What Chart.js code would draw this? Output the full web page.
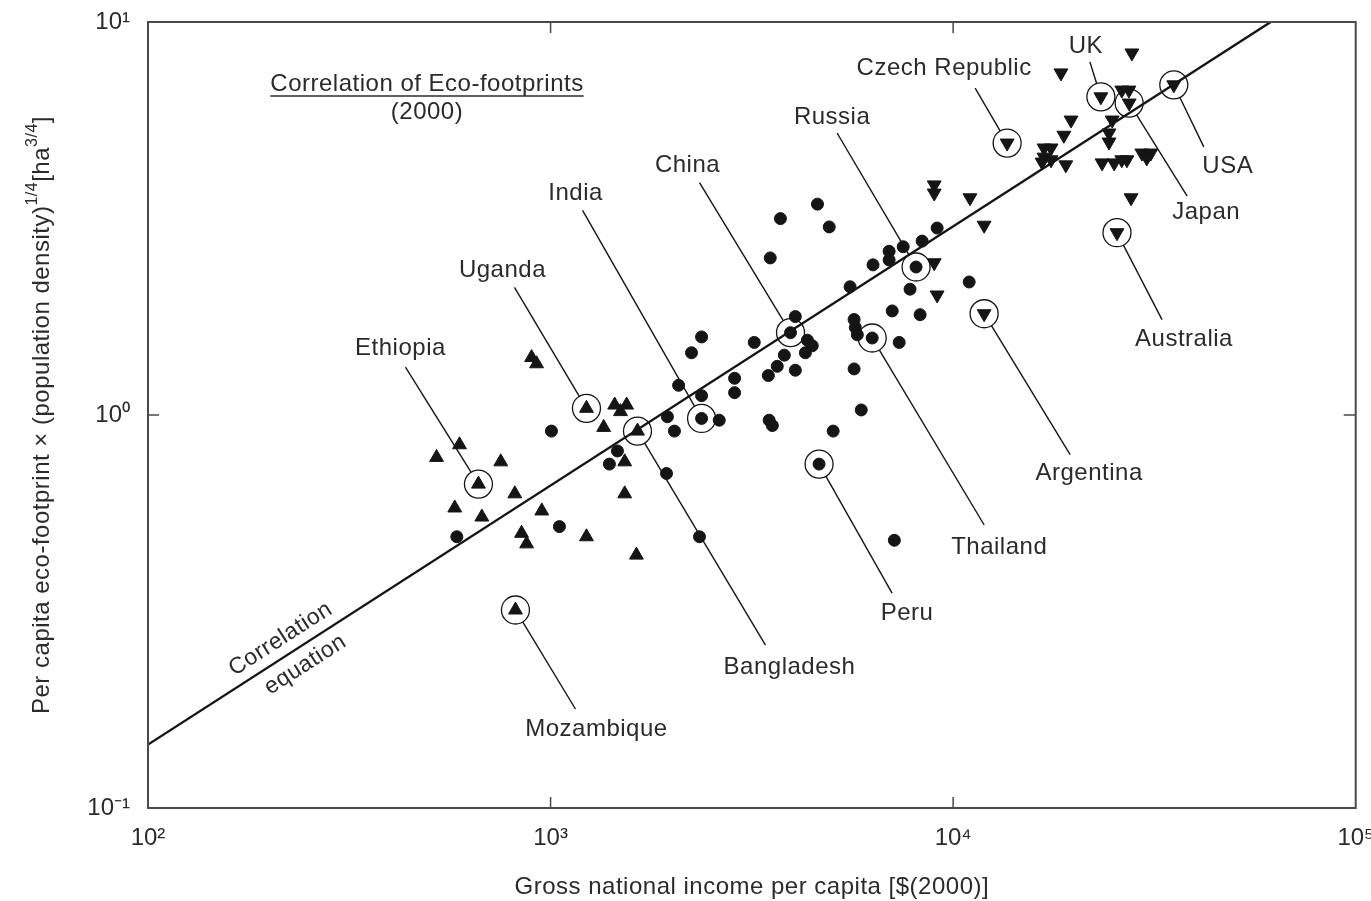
<!DOCTYPE html>
<html>
<head>
<meta charset="utf-8">
<script src="https://cdn.jsdelivr.net/npm/chart.js@4.4.1/dist/chart.umd.min.js"></script>
<style>
  html, body { margin: 0; padding: 0; background: #fff; }
</style>
</head>
<body>
<canvas id="ecoChart" width="1371" height="901"></canvas>
<script>
// low-income countries (up triangles)
const lowX = [521, 594, 752, 578, 675, 815, 951, 847, 872, 1228, 1528, 1528, 1634, 1355, 1443, 1545, 1492, 897, 923];
const lowY = [0.78, 0.84, 0.76, 0.58, 0.55, 0.63, 0.57, 0.50, 0.47, 0.49, 0.76, 0.63, 0.44, 0.93, 1.06, 1.06, 1.02, 1.40, 1.35];

// middle-income countries (dots)
const midX = [585, 1005, 1052, 1466, 1400, 1941, 2344, 1951, 2031, 2624, 2080, 2372, 2239, 2372, 2865, 2865, 3491, 3556,
  3206, 3475, 3657, 3808, 4055, 4295, 4467, 4345, 4055, 3513, 3724, 4603, 4923, 5546, 6324, 6934, 6934, 7516, 8375,
  9126, 10960, 7816, 7058, 8279, 5675, 5714, 5781, 7345, 5675, 5912, 5035, 7145];
const midY = [0.49, 0.91, 0.52, 0.81, 0.75, 0.71, 0.49, 0.99, 0.91, 0.97, 1.19, 1.12, 1.44, 1.58, 1.24, 1.14, 0.97, 0.94,
  1.53, 1.26, 1.33, 1.42, 1.30, 1.44, 1.50, 1.55, 1.78, 2.51, 3.16, 3.44, 3.01, 2.12, 2.41, 2.61, 2.48, 2.68, 2.77,
  2.99, 2.18, 2.09, 1.84, 1.80, 1.75, 1.67, 1.60, 1.53, 1.31, 1.03, 0.91, 0.48];

// high-income countries (down triangles)
const highX = [8975, 8975, 11010, 11940, 8975, 9126, 27800, 18530, 26240, 27330, 19630, 18840, 16820, 17510, 16820,
  17510, 16630, 19050, 24840, 24390, 24390, 23440, 25120, 26240, 27020, 29440, 30980, 27670, 30270];
const highY = [3.85, 3.67, 3.57, 3.04, 2.44, 2.02, 8.34, 7.42, 6.71, 6.71, 5.63, 5.15, 4.78, 4.78, 4.53,
  4.46, 4.40, 4.33, 5.63, 5.22, 4.95, 4.38, 4.38, 4.46, 4.46, 4.64, 4.64, 3.57, 4.51];

// named countries
const countries = ['Ethiopia', 'Mozambique', 'Uganda', 'Bangladesh', 'India', 'China', 'Peru', 'Thailand', 'Russia',
  'Argentina', 'Czech Republic', 'UK', 'Japan', 'USA', 'Australia'];
const countryX = [662, 818, 1228, 1644, 2372, 3945, 4645, 6295, 8090, 11940, 13620, 23280, 27370, 35330, 25530];
const countryY = [0.667, 0.319, 1.04, 0.91, 0.98, 1.62, 0.75, 1.57, 2.38, 1.81, 4.92, 6.45, 6.22, 6.92, 2.91];
const countryGroup = ['low', 'low', 'low', 'low', 'mid', 'mid', 'mid', 'mid', 'mid',
  'high', 'high', 'high', 'high', 'high', 'high'];

// correlation equation (end points)
const fitX = [100, 61500];
const fitY = [0.145, 10];

const xTicks = [100, 1000, 10000, 100000];
const xTickLabels = ['10²', '10³', '10⁴', '10⁵'];
const yTicks = [0.1, 1, 10];
const yTickLabels = ['10⁻¹', '10⁰', '10¹'];

// label placement relative to the marked point, in pixels
const labelLayout = {
  'Ethiopia':       { label: [-78, -136], lead: [-73, -117] },
  'Mozambique':     { label: [81, 119],   lead: [60, 99] },
  'Uganda':         { label: [-84, -138], lead: [-72, -121] },
  'Bangladesh':     { label: [152, 236],  lead: [128, 214] },
  'India':          { label: [-126, -225], lead: [-119, -208] },
  'China':          { label: [-103, -167], lead: [-91, -150] },
  'Peru':           { label: [88, 149],   lead: [73, 129] },
  'Thailand':       { label: [127, 209],  lead: [112, 187] },
  'Russia':         { label: [-84, -150], lead: [-79, -134] },
  'Argentina':      { label: [105, 160],  lead: [86, 141] },
  'Czech Republic': { label: [-63, -75],  lead: [-32, -55] },
  'UK':             { label: [-15, -50],  lead: [-11, -35] },
  'Japan':          { label: [77, 109],   lead: [58, 93] },
  'USA':            { label: [54, 82],    lead: [30, 62] },
  'Australia':      { label: [67, 107],   lead: [45, 87] }
};

const ink = '#151515';
const textColor = '#2b2b2b';
const frameColor = '#4a4a4a';
const ringRadius = 14;
const fontFamily = '"Liberation Sans", Arial, sans-serif';
const textFont = '24px ' + fontFamily;

function pts(xs, ys) {
  return xs.map((x, i) => ({ x: x, y: ys[i] }));
}
function groupPts(g) {
  const out = [];
  countries.forEach((c, i) => { if (countryGroup[i] === g) out.push({ x: countryX[i], y: countryY[i] }); });
  return out;
}

function drawRich(ctx, parts, cx, cy, size) {
  const supSize = Math.round(size * 0.68);
  let total = 0;
  const widths = parts.map(p => {
    ctx.font = (p[1] ? supSize : size) + 'px ' + fontFamily;
    const w = ctx.measureText(p[0]).width;
    total += w;
    return w;
  });
  let x = cx - total / 2;
  parts.forEach((p, i) => {
    ctx.font = (p[1] ? supSize : size) + 'px ' + fontFamily;
    ctx.fillText(p[0], x, p[1] ? cy - size * 0.4 : cy);
    x += widths[i];
  });
}

const annotate = {
  id: 'annotate',
  afterDatasetsDraw(chart) {
    const { ctx, chartArea: a, scales: { x, y } } = chart;
    ctx.save();

    // frame with inward ticks
    ctx.strokeStyle = frameColor;
    ctx.lineWidth = 2;
    ctx.strokeRect(a.left, a.top, a.right - a.left, a.bottom - a.top);
    ctx.lineWidth = 1.5;
    xTicks.slice(1, -1).forEach(v => {
      const px = x.getPixelForValue(v);
      ctx.beginPath();
      ctx.moveTo(px, a.bottom); ctx.lineTo(px, a.bottom - 11);
      ctx.moveTo(px, a.top); ctx.lineTo(px, a.top + 11);
      ctx.stroke();
    });
    yTicks.slice(1, -1).forEach(v => {
      const py = y.getPixelForValue(v);
      ctx.beginPath();
      ctx.moveTo(a.left, py); ctx.lineTo(a.left + 11, py);
      ctx.moveTo(a.right, py); ctx.lineTo(a.right - 12, py);
      ctx.stroke();
    });

    // leaders and country names
    ctx.strokeStyle = ink;
    ctx.lineWidth = 1.4;
    ctx.fillStyle = textColor;
    ctx.font = textFont;
    ctx.letterSpacing = '0.5px';
    ctx.textAlign = 'center';
    ctx.textBaseline = 'middle';
    countries.forEach((name, i) => {
      const px = x.getPixelForValue(countryX[i]);
      const py = y.getPixelForValue(countryY[i]);
      const lay = labelLayout[name];
      const ex = px + lay.lead[0], ey = py + lay.lead[1];
      const d = Math.hypot(ex - px, ey - py);
      ctx.beginPath();
      ctx.moveTo(px + (ex - px) / d * ringRadius, py + (ey - py) / d * ringRadius);
      ctx.lineTo(ex, ey);
      ctx.stroke();
      ctx.fillText(name, px + lay.label[0], py + lay.label[1]);
    });

    // "Correlation equation" along the line
    const x0 = x.getPixelForValue(fitX[0]), y0 = y.getPixelForValue(fitY[0]);
    const x1 = x.getPixelForValue(fitX[1]), y1 = y.getPixelForValue(fitY[1]);
    const ang = Math.atan2(y1 - y0, x1 - x0);
    const ax = x.getPixelForValue(225);
    const ay = y0 + (ax - x0) / (x1 - x0) * (y1 - y0);
    ctx.save();
    ctx.translate(ax, ay);
    ctx.rotate(ang);
    ctx.font = '23px ' + fontFamily;
    ctx.fillText('Correlation', 0, -17);
    ctx.fillText('equation', 7, 18);
    ctx.restore();

    // chart title
    const tx = a.left + 279, ty = a.top + 62;
    ctx.fillText('Correlation of Eco-footprints', tx, ty);
    ctx.fillText('(2000)', tx, ty + 28);
    const tw = ctx.measureText('Correlation of Eco-footprints').width;
    ctx.strokeStyle = textColor;
    ctx.lineWidth = 1.3;
    ctx.beginPath();
    ctx.moveTo(tx - tw / 2, ty + 12); ctx.lineTo(tx + tw / 2, ty + 12);
    ctx.stroke();

    // axis titles
    ctx.fillText('Gross national income per capita [$(2000)]', (a.left + a.right) / 2, a.bottom + 79);
    ctx.save();
    ctx.translate(a.left - 106, (a.top + a.bottom) / 2);
    ctx.rotate(-Math.PI / 2);
    ctx.textAlign = 'left';
    drawRich(ctx, [
      ['Per capita eco-footprint × (population density)', false],
      ['1/4', true],
      ['[ha', false],
      ['3/4', true],
      [']', false]
    ], 0, 0, 24);
    ctx.restore();

    ctx.restore();
  }
};

const ctx = document.getElementById('ecoChart');
new Chart(ctx, {
  type: 'scatter',
  data: {
    datasets: [
      {
        label: 'marked',
        data: pts(countryX, countryY),
        pointStyle: 'circle',
        pointRadius: ringRadius,
        pointBackgroundColor: 'rgba(0,0,0,0)',
        pointBorderColor: ink,
        pointBorderWidth: 1.3,
        order: 0
      },
      {
        label: 'low',
        data: pts(lowX, lowY).concat(groupPts('low')),
        pointStyle: 'triangle',
        pointRadius: 8,
        pointBackgroundColor: ink,
        pointBorderColor: ink,
        pointBorderWidth: 1,
        order: 1
      },
      {
        label: 'mid',
        data: pts(midX, midY).concat(groupPts('mid')),
        pointStyle: 'circle',
        pointRadius: 6,
        pointBackgroundColor: ink,
        pointBorderColor: ink,
        pointBorderWidth: 1,
        order: 1
      },
      {
        label: 'high',
        data: pts(highX, highY).concat(groupPts('high')),
        pointStyle: 'triangle',
        rotation: 180,
        pointRadius: 8,
        pointBackgroundColor: ink,
        pointBorderColor: ink,
        pointBorderWidth: 1,
        order: 1
      },
      {
        type: 'line',
        label: 'Correlation equation',
        data: pts(fitX, fitY),
        borderColor: ink,
        borderWidth: 2.4,
        pointRadius: 0,
        fill: false,
        order: 2
      }
    ]
  },
  options: {
    responsive: false,
    animation: false,
    layout: { padding: { top: 22, right: 14, left: 0, bottom: 0 } },
    plugins: {
      legend: { display: false },
      tooltip: { enabled: false }
    },
    scales: {
      x: {
        type: 'logarithmic',
        min: 100,
        max: 100000,
        afterBuildTicks: s => { s.ticks = xTicks.map(v => ({ value: v })); },
        afterFit: s => { s.height = 93; s.paddingLeft = 0; s.paddingRight = 0; },
        grid: { display: false, drawTicks: false },
        border: { display: false },
        ticks: {
          autoSkip: false,
          maxRotation: 0,
          padding: 16,
          color: textColor,
          font: { family: fontFamily, size: 24 },
          callback: v => xTickLabels[xTicks.indexOf(v)]
        }
      },
      y: {
        type: 'logarithmic',
        min: 0.1,
        max: 10,
        afterBuildTicks: s => { s.ticks = yTicks.map(v => ({ value: v })); },
        afterFit: s => { s.width = 148; s.paddingTop = 0; s.paddingBottom = 0; },
        grid: { display: false, drawTicks: false },
        border: { display: false },
        ticks: {
          autoSkip: false,
          padding: 18,
          color: textColor,
          font: { family: fontFamily, size: 24 },
          callback: v => yTickLabels[yTicks.indexOf(v)]
        }
      }
    }
  },
  plugins: [annotate]
});
</script>
</body>
</html>
